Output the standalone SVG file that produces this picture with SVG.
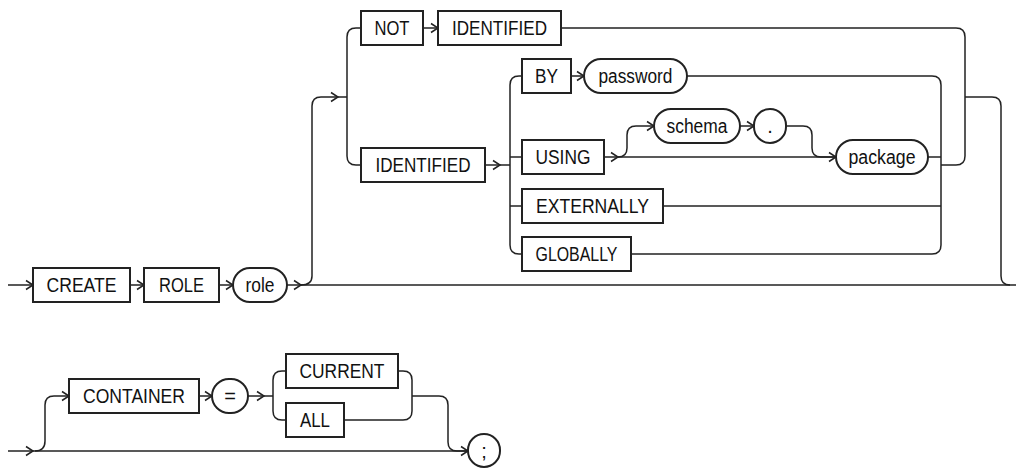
<svg xmlns="http://www.w3.org/2000/svg" xmlns:xlink="http://www.w3.org/1999/xlink" width="1016" height="468" viewBox="0 0 1016 468">
<style>
.b{fill:#fff;stroke:#222;stroke-width:2}
.l{fill:none;stroke:#222;stroke-width:1.5}
.t{font-family:"Liberation Sans",Arial,sans-serif;font-size:20px;fill:#111;text-anchor:middle}
</style>
<defs>
<path id="ah" d="M-7,-4.5 L0,0 L-7,4.5" fill="none" stroke="#222" stroke-width="1.5"/>
</defs>
<rect width="1016" height="468" fill="#fff"/>
<g id="connectors">
<path class="l" d="M8,285 L1016,285"/>
<path class="l" d="M301,285 Q312,285 312,276 L312,106 Q312,97 321,97 L347,97"/>
<path class="l" d="M347,97 L347,37 Q347,28 356,28 L361,28"/>
<path class="l" d="M347,97 L347,156 Q347,165 356,165 L361,165"/>
<path class="l" d="M423,28 L438,28"/>
<path class="l" d="M561,28 L956,28 Q965,28 965,37 L965,156 Q965,165 956,165 L941,165"/>
<path class="l" d="M965,97 L992,97 Q1001,97 1001,106 L1001,276 Q1001,285 1010,285"/>
<path class="l" d="M485,165 L510,165"/>
<path class="l" d="M522,76 L519,76 Q510,76 510,85 L510,245 Q510,254 519,254 L522,254"/>
<path class="l" d="M510,157 L522,157"/>
<path class="l" d="M510,206 L522,206"/>
<path class="l" d="M571,76 L584,76"/>
<path class="l" d="M687,76 L932,76 Q941,76 941,85 L941,245 Q941,254 932,254 L631,254"/>
<path class="l" d="M663,206 L941,206"/>
<path class="l" d="M604,157 L836,157"/>
<path class="l" d="M618,157 Q627,157 627,148 L627,135 Q627,126 636,126 L654,126"/>
<path class="l" d="M740,126 L754,126"/>
<path class="l" d="M786,126 L803,126 Q812,126 812,135 L812,148 Q812,157 821,157 L836,157"/>
<path class="l" d="M928,157 L941,157"/>
<path class="l" d="M8,451 L468,451"/>
<path class="l" d="M35,451 Q45,451 45,441 L45,405 Q45,396 54,396 L69,396"/>
<path class="l" d="M199,396 L212,396"/>
<path class="l" d="M248,396 L273,396"/>
<path class="l" d="M273,396 L273,380 Q273,371 282,371 L286,371"/>
<path class="l" d="M273,396 L273,411 Q273,420 282,420 L286,420"/>
<path class="l" d="M398,371 L403,371 Q412,371 412,380 L412,411 Q412,420 403,420 L344,420"/>
<path class="l" d="M412,396 L439,396 Q448,396 448,405 L448,442 Q448,451 457,451 L468,451"/>
<use xlink:href="#ah" x="33" y="285"/>
<use xlink:href="#ah" x="144" y="285"/>
<use xlink:href="#ah" x="233" y="285"/>
<use xlink:href="#ah" x="301" y="285"/>
<use xlink:href="#ah" x="338" y="97"/>
<use xlink:href="#ah" x="438" y="28"/>
<use xlink:href="#ah" x="500" y="165"/>
<use xlink:href="#ah" x="584" y="76"/>
<use xlink:href="#ah" x="618" y="157"/>
<use xlink:href="#ah" x="654" y="126"/>
<use xlink:href="#ah" x="754" y="126"/>
<use xlink:href="#ah" x="836" y="157"/>
<use xlink:href="#ah" x="33" y="451"/>
<use xlink:href="#ah" x="69" y="396"/>
<use xlink:href="#ah" x="212" y="396"/>
<use xlink:href="#ah" x="264" y="396"/>
<use xlink:href="#ah" x="468" y="451"/>
</g>
<g id="n-create"><rect class="b" x="33" y="268" width="97" height="34"/><text class="t" x="81.5" y="292" textLength="70" lengthAdjust="spacingAndGlyphs">CREATE</text></g>
<g id="n-role-kw"><rect class="b" x="144" y="268" width="75" height="34"/><text class="t" x="181.5" y="292" textLength="45" lengthAdjust="spacingAndGlyphs">ROLE</text></g>
<g id="n-role"><rect class="b" x="233" y="268" width="54" height="34" rx="17"/><text class="t" x="260" y="292" textLength="29" lengthAdjust="spacingAndGlyphs">role</text></g>
<g id="n-not"><rect class="b" x="361" y="11" width="62" height="34"/><text class="t" x="392" y="35" textLength="35" lengthAdjust="spacingAndGlyphs">NOT</text></g>
<g id="n-identified1"><rect class="b" x="438" y="11" width="123" height="34"/><text class="t" x="499.5" y="35" textLength="95" lengthAdjust="spacingAndGlyphs">IDENTIFIED</text></g>
<g id="n-identified2"><rect class="b" x="361" y="148" width="124" height="34"/><text class="t" x="423" y="172" textLength="95" lengthAdjust="spacingAndGlyphs">IDENTIFIED</text></g>
<g id="n-by"><rect class="b" x="522" y="59" width="49" height="34"/><text class="t" x="546.5" y="83" textLength="23" lengthAdjust="spacingAndGlyphs">BY</text></g>
<g id="n-password"><rect class="b" x="584" y="59" width="103" height="34" rx="17"/><text class="t" x="635.5" y="83" textLength="74" lengthAdjust="spacingAndGlyphs">password</text></g>
<g id="n-using"><rect class="b" x="522" y="140" width="82" height="34"/><text class="t" x="563" y="164" textLength="55" lengthAdjust="spacingAndGlyphs">USING</text></g>
<g id="n-schema"><rect class="b" x="654" y="109" width="86" height="34" rx="17"/><text class="t" x="697" y="133" textLength="61" lengthAdjust="spacingAndGlyphs">schema</text></g>
<g id="n-dot"><rect class="b" x="754" y="109" width="32" height="34" rx="16"/><text class="t" x="770" y="133">.</text></g>
<g id="n-package"><rect class="b" x="836" y="140" width="92" height="34" rx="17"/><text class="t" x="882" y="164" textLength="67" lengthAdjust="spacingAndGlyphs">package</text></g>
<g id="n-externally"><rect class="b" x="522" y="189" width="141" height="34"/><text class="t" x="592.5" y="213" textLength="113" lengthAdjust="spacingAndGlyphs">EXTERNALLY</text></g>
<g id="n-globally"><rect class="b" x="522" y="237" width="109" height="34"/><text class="t" x="576.5" y="261" textLength="82" lengthAdjust="spacingAndGlyphs">GLOBALLY</text></g>
<g id="n-container"><rect class="b" x="69" y="379" width="130" height="34"/><text class="t" x="134" y="403" textLength="102" lengthAdjust="spacingAndGlyphs">CONTAINER</text></g>
<g id="n-eq"><rect class="b" x="212" y="379" width="36" height="34" rx="17"/><text class="t" x="230" y="403">=</text></g>
<g id="n-current"><rect class="b" x="286" y="354" width="112" height="34"/><text class="t" x="342" y="378" textLength="85" lengthAdjust="spacingAndGlyphs">CURRENT</text></g>
<g id="n-all"><rect class="b" x="286" y="403" width="58" height="34"/><text class="t" x="315" y="427" textLength="30" lengthAdjust="spacingAndGlyphs">ALL</text></g>
<g id="n-semi"><rect class="b" x="468" y="434" width="32" height="33" rx="16"/><text class="t" x="484" y="458">;</text></g>
</svg>
